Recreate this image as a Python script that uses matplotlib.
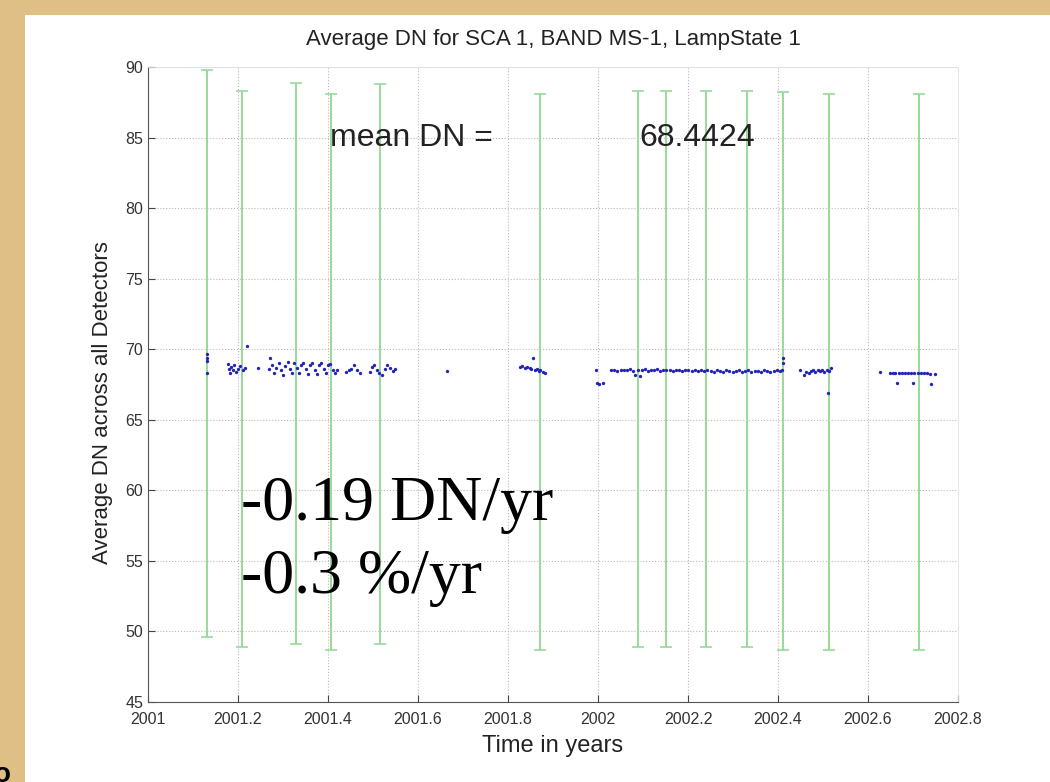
import matplotlib
matplotlib.use("Agg")
import matplotlib.pyplot as plt
from matplotlib.patches import Rectangle
import numpy as np

# ---------------- data ----------------
title = "Average DN for SCA 1, BAND MS-1, LampState 1"
xlabel = "Time in years"
ylabel = "Average DN across all Detectors"
xticks = [2001, 2001.2, 2001.4, 2001.6, 2001.8, 2002, 2002.2, 2002.4, 2002.6, 2002.8]
xticklabels = ["2001", "2001.2", "2001.4", "2001.6", "2001.8", "2002", "2002.2", "2002.4", "2002.6", "2002.8"]
yticks = [45, 50, 55, 60, 65, 70, 75, 80, 85, 90]

# error bars (green)
err_x = [2001.131, 2001.209, 2001.329, 2001.407, 2001.516, 2001.871, 2002.089,
         2002.151, 2002.240, 2002.331, 2002.411, 2002.513, 2002.713]
err_top = [89.8, 88.3, 88.9, 88.1, 88.8, 88.1, 88.3, 88.3, 88.3, 88.3, 88.2, 88.1, 88.1]
err_bot = [49.6, 48.9, 49.1, 48.7, 49.1, 48.7, 48.9, 48.9, 48.9, 48.9, 48.7, 48.7, 48.7]

# measured points (blue)
t_2001a = [2001.131, 2001.131, 2001.131, 2001.132,
           2001.178, 2001.180, 2001.182, 2001.185, 2001.188, 2001.192, 2001.196,
           2001.200, 2001.205, 2001.210, 2001.215, 2001.219, 2001.244]
dn_2001a = [69.65, 69.40, 69.15, 68.30,
            68.95, 68.60, 68.30, 68.75, 68.50, 68.85, 68.40,
            68.60, 68.80, 68.55, 68.70, 70.20, 68.70]

t_2001b = [2001.268, 2001.272, 2001.276, 2001.280, 2001.285, 2001.290, 2001.296,
           2001.300, 2001.305, 2001.310, 2001.315, 2001.320, 2001.325, 2001.330,
           2001.335, 2001.340, 2001.345, 2001.350, 2001.355, 2001.360, 2001.365,
           2001.370, 2001.375, 2001.380, 2001.385, 2001.390, 2001.395, 2001.400,
           2001.405, 2001.410, 2001.415, 2001.420, 2001.440, 2001.446, 2001.452,
           2001.458, 2001.464, 2001.470, 2001.493, 2001.498, 2001.503, 2001.508,
           2001.514, 2001.520, 2001.526, 2001.532, 2001.538, 2001.544, 2001.549]
dn_2001b = [68.60, 69.40, 68.90, 68.30, 68.70, 69.00, 68.50,
            68.20, 68.80, 69.10, 68.60, 68.30, 69.00, 68.70, 68.35,
            68.90, 69.05, 68.60, 68.25, 68.85, 69.00, 68.55, 68.25,
            68.90, 69.00, 68.60, 68.30, 68.85, 68.95, 68.55, 68.30,
            68.50, 68.40, 68.50, 68.60, 68.90, 68.50, 68.30,
            68.40, 68.75, 68.90, 68.55, 68.30, 68.20, 68.60,
            68.85, 68.70, 68.45, 68.60]

t_2001c = [2001.664, 2001.827, 2001.832, 2001.838, 2001.843, 2001.848, 2001.852,
           2001.856, 2001.860, 2001.864, 2001.868, 2001.872, 2001.877, 2001.882]
dn_2001c = [68.45, 68.75, 68.80, 68.70, 68.75, 68.65, 68.60,
            69.40, 68.55, 68.60, 68.45, 68.50, 68.40, 68.35]

t_2002a = [2001.996, 2001.998, 2002.003, 2002.010,
           2002.029, 2002.036, 2002.043, 2002.050, 2002.057, 2002.064, 2002.071,
           2002.078, 2002.083, 2002.088, 2002.093, 2002.098, 2002.104, 2002.110,
           2002.117, 2002.124, 2002.131, 2002.138, 2002.145, 2002.152, 2002.159,
           2002.166, 2002.173, 2002.180, 2002.187, 2002.194, 2002.201, 2002.208,
           2002.215, 2002.222, 2002.229, 2002.236, 2002.243, 2002.250, 2002.257,
           2002.264, 2002.271, 2002.278, 2002.285, 2002.292, 2002.299, 2002.306,
           2002.313, 2002.320, 2002.327, 2002.334, 2002.341, 2002.348, 2002.355,
           2002.362, 2002.369, 2002.376, 2002.383, 2002.390, 2002.397, 2002.404,
           2002.409, 2002.410, 2002.411]
dn_2002a = [68.50, 67.60, 67.55, 67.60,
            68.50, 68.55, 68.45, 68.50, 68.55, 68.50, 68.60,
            68.45, 68.15, 68.55, 68.10, 68.50, 68.60, 68.45,
            68.55, 68.50, 68.60, 68.45, 68.50, 68.55, 68.50,
            68.45, 68.55, 68.50, 68.45, 68.50, 68.55, 68.45,
            68.50, 68.45, 68.55, 68.45, 68.50, 68.45, 68.40,
            68.50, 68.45, 68.40, 68.50, 68.45, 68.40, 68.45,
            68.50, 68.40, 68.45, 68.50, 68.40, 68.45, 68.45,
            68.40, 68.50, 68.45, 68.40, 68.45, 68.50, 68.45,
            68.50, 69.40, 69.00]

t_2002b = [2002.449, 2002.458, 2002.463, 2002.468, 2002.473, 2002.478, 2002.483,
           2002.488, 2002.493, 2002.498, 2002.503, 2002.508, 2002.510, 2002.513,
           2002.517,
           2002.627, 2002.648, 2002.655, 2002.661, 2002.664, 2002.668, 2002.675,
           2002.682, 2002.689, 2002.696, 2002.700, 2002.703, 2002.710, 2002.717,
           2002.724, 2002.731, 2002.738, 2002.740, 2002.749]
dn_2002b = [68.50, 68.20, 68.40, 68.35, 68.45, 68.50, 68.40,
            68.55, 68.45, 68.50, 68.40, 68.55, 66.90, 68.45,
            68.70,
            68.40, 68.30, 68.30, 68.35, 67.60, 68.30, 68.35,
            68.30, 68.35, 68.30, 67.60, 68.35, 68.30, 68.35,
            68.30, 68.30, 68.25, 67.50, 68.25]

t_all = t_2001a + t_2001b + t_2001c + t_2002a + t_2002b
dn_all = dn_2001a + dn_2001b + dn_2001c + dn_2002a + dn_2002b

mean_label = "mean DN ="
mean_value = "68.4424"
trend_lines = ["-0.19 DN/yr", "-0.3 %/yr"]

# ---------------- figure ----------------
plt.rcParams['font.family'] = ['Liberation Sans', 'DejaVu Sans']
fig = plt.figure(figsize=(10.5, 7.82), dpi=100)
fig.patch.set_facecolor('#dfbf86')
fig.patches.append(Rectangle((25 / 1050, 0), 1 - 25 / 1050, 1 - 15 / 782,
                             transform=fig.transFigure, facecolor='white',
                             edgecolor='none', zorder=-5))
# clipped fragment of a letter at the lower-left edge
fig.text(-6 / 1050, -6 / 782, "o", fontsize=20, fontweight='bold', color='black',
         ha='left', va='bottom')

ax = fig.add_axes([148 / 1050, 1 - 702 / 782, 810 / 1050, 635 / 782])
ax.set_zorder(1)
ax.set_facecolor('white')

err_x_arr = np.array(err_x)
top = np.array(err_top)
bot = np.array(err_bot)
center = (top + bot) / 2
ax.errorbar(err_x_arr, center, yerr=[center - bot, top - center], fmt='none',
            ecolor='#9ad89a', elinewidth=1.4, capsize=4.5, capthick=1.2, zorder=2)

ax.plot(t_all, dn_all, linestyle='none', marker='o', markersize=2.4,
        color='#2323b8', markeredgewidth=0, zorder=3)

ax.set_xlim(2001, 2002.8)
ax.set_ylim(45, 90)
ax.set_xticks(xticks)
ax.set_xticklabels(xticklabels)
ax.set_yticks(yticks)
ax.tick_params(direction='in', length=5, labelsize=11.5, colors='#444444',
               labelcolor='#333333', top=False, right=False)
ax.tick_params(axis='x', pad=7)
ax.grid(True, linestyle=':', color='#bbbbbb', linewidth=0.8)
for s in ['left', 'bottom']:
    ax.spines[s].set_color('#555555')
for s in ['top', 'right']:
    ax.spines[s].set_color('#e0e0e0')
    ax.spines[s].set_linewidth(0.6)

ax.set_title(title, fontsize=16, color='#222222', pad=16)
ax.set_xlabel(xlabel, fontsize=17, color='#222222', labelpad=6)
ax.set_ylabel(ylabel, fontsize=16, color='#222222')
ax.yaxis.set_label_coords(-0.043, 0.472)

ax.text(2001.404, 84.95, mean_label, fontsize=23, color='#222222', va='center', ha='left')
ax.text(2002.093, 84.95, mean_value, fontsize=23, color='#222222', va='center', ha='left')

ax.text(2001.207, 57.9, trend_lines[0], fontsize=46, family='Liberation Serif',
        color='black', va='baseline', ha='left')
ax.text(2001.207, 52.75, trend_lines[1], fontsize=46, family='Liberation Serif',
        color='black', va='baseline', ha='left')

fig.savefig('out.png', dpi=100, facecolor=fig.get_facecolor())
